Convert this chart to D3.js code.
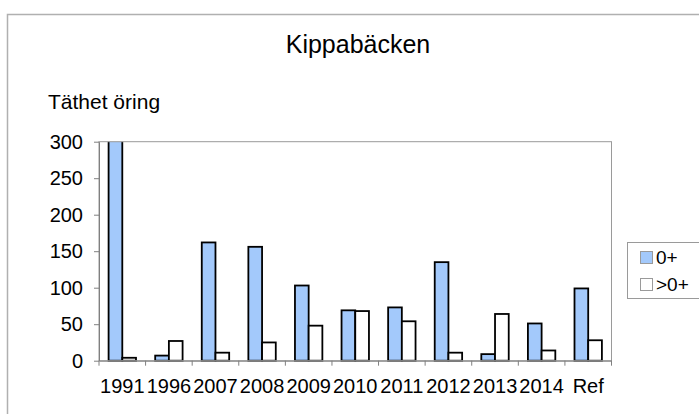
<!DOCTYPE html>
<head>
  <meta charset="utf-8">
  <script src="https://d3js.org/d3.v7.min.js"></script>
  <style>
    body { margin:0; background:#fff; }
    text { font-family: "Liberation Sans", Arial, sans-serif; fill:#000; }
  </style>
</head>

<body>
  <script>
    // data (1991 0+ runs past the top of the axis)
    var years = ["1991","1996","2007","2008","2009","2010","2011","2012","2013","2014","Ref"];
    var young = [330, 7, 162, 156, 103, 69, 73, 135, 9, 51, 99];   // 0+
    var older = [4, 27, 11, 25, 48, 68, 54, 11, 64, 14, 28];       // >0+
    var seriesNames = ["0+", ">0+"];
    var seriesColors = ["#a3c9fb", "#ffffff"];
    var yTicks = [0, 50, 100, 150, 200, 250, 300];

    var W = 699, H = 414;
    var plot = {left: 99, right: 611.5, top: 141.7, bottom: 360.7};

    var svg = d3.select("body").append("svg")
      .attr("width", W)
      .attr("height", H);

    // outer chart frame (runs off the canvas on right / bottom)
    svg.append("rect")
      .attr("x", 7.5).attr("y", 14.5)
      .attr("width", 720).attr("height", 440)
      .attr("fill", "none")
      .attr("stroke", "#b0b0b0")
      .attr("stroke-width", 1.5);

    var x = d3.scaleBand()
      .domain(years)
      .range([plot.left, plot.right])
      .padding(0);

    var y = d3.scaleLinear()
      .domain([0, 300])
      .range([plot.bottom, plot.top]);

    svg.append("clipPath").attr("id", "clip")
      .append("rect")
      .attr("x", plot.left).attr("y", plot.top)
      .attr("width", plot.right - plot.left)
      .attr("height", plot.bottom - plot.top + 2);

    var bw = x.step() / 3.4;
    var rows = years.map(function(d, i) { return {year: d, vals: [young[i], older[i]]}; });

    var groups = svg.append("g")
      .attr("clip-path", "url(#clip)")
      .selectAll(".grp")
      .data(rows)
      .enter().append("g")
      .attr("class", "grp");

    groups.selectAll("rect")
      .data(function(d) { return d.vals.map(function(v, k) { return {year: d.year, v: v, k: k}; }); })
      .enter().append("rect")
      .attr("x", function(d) { return x(d.year) + x.bandwidth() / 2 + (d.k - 1) * bw; })
      .attr("y", function(d) { return y(d.v); })
      .attr("width", bw)
      .attr("height", function(d) { return y(0) - y(d.v); })
      .attr("fill", function(d) { return seriesColors[d.k]; })
      .attr("stroke", "#000")
      .attr("stroke-width", 1.8);

    // plot area border
    svg.append("rect")
      .attr("x", plot.left).attr("y", plot.top)
      .attr("width", plot.right - plot.left)
      .attr("height", plot.bottom - plot.top)
      .attr("fill", "none")
      .attr("stroke", "#9a9a9a")
      .attr("stroke-width", 1);

    // y axis
    var yAxis = svg.append("g")
      .attr("transform", "translate(" + plot.left + ",0)")
      .call(d3.axisLeft(y).tickValues(yTicks).tickSize(5).tickPadding(11).tickSizeOuter(0));
    yAxis.selectAll("text").style("font-size", "20px").style("font-family", "Liberation Sans, Arial, sans-serif");
    yAxis.selectAll("line").attr("stroke", "#808080");
    yAxis.select(".domain").attr("stroke", "#808080");

    // x axis: labels centred in bands, ticks on band edges
    var xAxis = svg.append("g")
      .attr("transform", "translate(0," + plot.bottom + ")")
      .call(d3.axisBottom(x).tickSize(0).tickPadding(18).tickSizeOuter(0));
    xAxis.selectAll("text").style("font-size", "20px").style("font-family", "Liberation Sans, Arial, sans-serif");
    xAxis.select(".domain").attr("stroke", "#808080");

    var edges = years.map(function(d) { return x(d); }).concat([plot.right]);
    xAxis.selectAll(".edge")
      .data(edges)
      .enter().append("line")
      .attr("class", "edge")
      .attr("x1", function(d) { return d; })
      .attr("x2", function(d) { return d; })
      .attr("y1", 0).attr("y2", 5)
      .attr("stroke", "#808080");

    // titles
    svg.append("text")
      .attr("x", 358).attr("y", 53)
      .attr("text-anchor", "middle")
      .style("font-size", "25px")
      .text("Kippabäcken");

    svg.append("text")
      .attr("x", 48).attr("y", 109)
      .style("font-size", "21px")
      .text("Täthet öring");

    // legend
    var lg = svg.append("g");
    lg.append("rect")
      .attr("x", 627.5).attr("y", 242.5)
      .attr("width", 80).attr("height", 56)
      .attr("fill", "#fff")
      .attr("stroke", "#9a9a9a");

    var items = lg.selectAll(".item")
      .data(seriesNames)
      .enter().append("g")
      .attr("class", "item")
      .attr("transform", function(d, i) { return "translate(640," + (251 + i * 27) + ")"; });

    items.append("rect")
      .attr("x", 0.5).attr("y", 0.5)
      .attr("width", 12).attr("height", 12)
      .attr("fill", function(d, i) { return seriesColors[i]; })
      .attr("stroke", "#9a9a9a");

    items.append("text")
      .attr("x", 16).attr("y", 13)
      .style("font-size", "19px")
      .text(function(d) { return d; });
  </script>
</body>
